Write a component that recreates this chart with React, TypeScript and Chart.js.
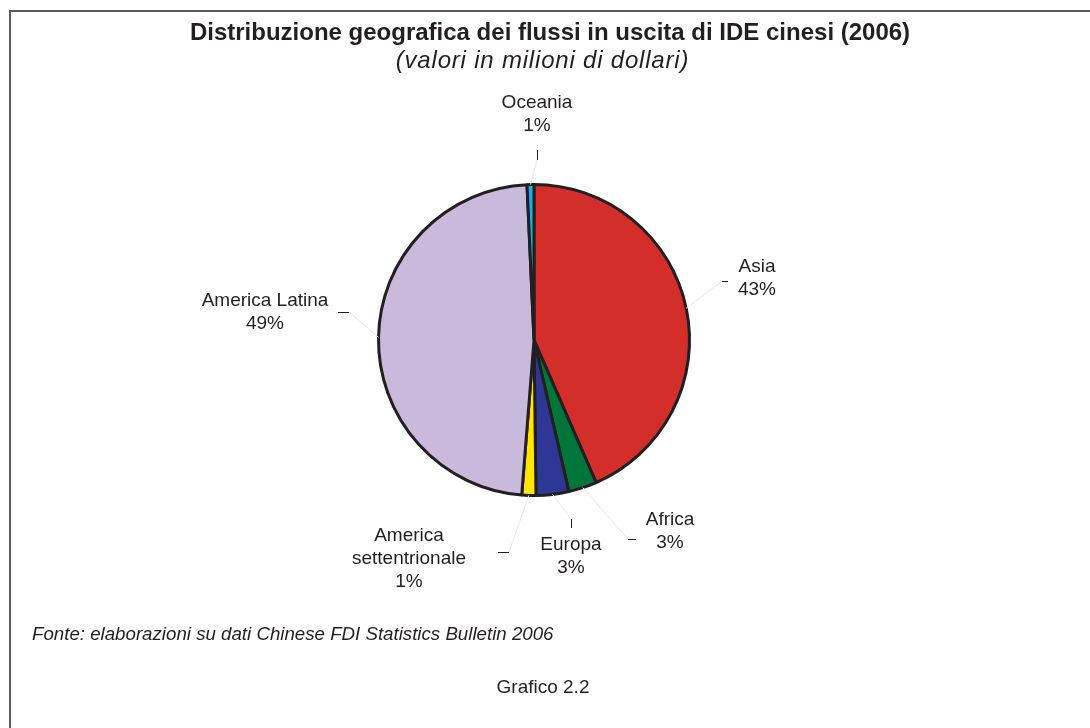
import React, { useEffect, useRef } from "react";
import { Chart, registerables } from "chart.js";

Chart.register(...registerables);

// ---- data (millions of USD) ----
const categories = ["Asia", "Africa", "Europa", "America settentrionale", "America Latina", "Oceania"];
const labelLines = [["Asia"], ["Africa"], ["Europa"], ["America", "settentrionale"], ["America Latina"], ["Oceania"]];
const values = [7663, 520, 598, 258, 8469, 126];
const percentLabels = ["43%", "3%", "3%", "1%", "49%", "1%"];
const sliceColors = ["#D32E2A", "#00763A", "#2E3795", "#FFE600", "#C9B9DA", "#1AAEE6"];

// ---- label layout (offsets from the pie centre, px) ----
const labelOffsets = [
  [223, -68],
  [136, 185],
  [37, 210],
  [-125, 201],
  [-269, -34],
  [3, -232],
];
// tick segments [x1,y1,x2,y2]; (x1,y1) is the end that the leader line reaches
const tickSegments = [
  [188, -59, 194, -59],
  [94, 199, 102, 199],
  [37, 179, 37, 188],
  [-25, 212, -36, 212],
  [-185, -28, -196, -28],
  [3, -180, 3, -190],
];

const FONT = "'Liberation Sans', Arial, Helvetica, sans-serif";
const TEXT = "#231F20";

const labelPlugin = {
  id: "pieLabels",
  afterDatasetsDraw(chart: any) {
    const ctx = chart.ctx;
    const meta = chart.getDatasetMeta(0);
    ctx.save();
    meta.data.forEach((arc: any, i: number) => {
      const p = arc.getProps(["x", "y", "startAngle", "endAngle", "outerRadius"], true);
      const mid = (p.startAngle + p.endAngle) / 2;
      const ex = p.x + Math.cos(mid) * p.outerRadius;
      const ey = p.y + Math.sin(mid) * p.outerRadius;
      const t = tickSegments[i];
      // faint leader line
      ctx.strokeStyle = "#E6E6E6";
      ctx.lineWidth = 1;
      ctx.beginPath();
      ctx.moveTo(ex, ey);
      ctx.lineTo(p.x + t[0], p.y + t[1]);
      ctx.stroke();
      // tick
      const vx = t[0] === t[2] ? 0.5 : 0;
      const hy = t[1] === t[3] ? 0.5 : 0;
      ctx.strokeStyle = TEXT;
      ctx.lineWidth = 1;
      ctx.beginPath();
      ctx.moveTo(Math.round(p.x + t[0]) + vx, Math.round(p.y + t[1]) + hy);
      ctx.lineTo(Math.round(p.x + t[2]) + vx, Math.round(p.y + t[3]) + hy);
      ctx.stroke();
      // text
      const lines = [...labelLines[i], percentLabels[i]];
      ctx.fillStyle = TEXT;
      ctx.font = `19px ${FONT}`;
      ctx.textAlign = "center";
      ctx.textBaseline = "alphabetic";
      const lx = p.x + labelOffsets[i][0];
      const ly = p.y + labelOffsets[i][1];
      lines.forEach((s, k) => ctx.fillText(s, lx, ly + k * 23));
    });
    ctx.restore();
  },
};

export default function App() {
  const ref = useRef<HTMLCanvasElement | null>(null);
  useEffect(() => {
    document.body.style.margin = "0";
    const chart = new Chart(ref.current as HTMLCanvasElement, {
      type: "pie",
      data: {
        labels: categories,
        datasets: [
          {
            data: values,
            backgroundColor: sliceColors,
            borderColor: "#231F20",
            borderWidth: 3,
          },
        ],
      },
      options: {
        animation: false,
        responsive: false,
        devicePixelRatio: 1,
        events: [],
        layout: { padding: { left: 377, right: 399, top: 183, bottom: 231 } },
        plugins: { legend: { display: false }, tooltip: { enabled: false }, title: { display: false } },
      },
      plugins: [labelPlugin],
    });
    return () => chart.destroy();
  }, []);

  const base: React.CSSProperties = { position: "absolute", fontFamily: FONT, color: TEXT, whiteSpace: "nowrap" };
  return (
    <div style={{ position: "fixed", left: 0, top: 0, width: 1090, height: 728, background: "#fff", overflow: "hidden" }}>
      <canvas ref={ref} width={1090} height={728} style={{ position: "absolute", left: 0, top: 0, width: 1090, height: 728 }} />
      <div style={{ position: "absolute", left: 10, top: 10, width: 1080, height: 2, background: "#5A5A5A" }} />
      <div style={{ position: "absolute", left: 9, top: 10, width: 2, height: 718, background: "#5A5A5A" }} />
      <div style={{ ...base, left: 10, width: 1080, textAlign: "center", top: 20, fontSize: 24, lineHeight: "24px", fontWeight: "bold" }}>
        Distribuzione geografica dei flussi in uscita di IDE cinesi (2006)
      </div>
      <div style={{ ...base, left: 0, width: 1085, textAlign: "center", top: 48, fontSize: 24, lineHeight: "24px", fontStyle: "italic", letterSpacing: "0.8px" }}>
        (valori in milioni di dollari)
      </div>
      <div style={{ ...base, left: 32, top: 625, fontSize: 18.7, lineHeight: "18px", fontStyle: "italic" }}>
        Fonte: elaborazioni su dati Chinese FDI Statistics Bulletin 2006
      </div>
      <div style={{ ...base, left: 0, width: 1086, textAlign: "center", top: 677, fontSize: 19, lineHeight: "19px" }}>
        Grafico 2.2
      </div>
    </div>
  );
}
